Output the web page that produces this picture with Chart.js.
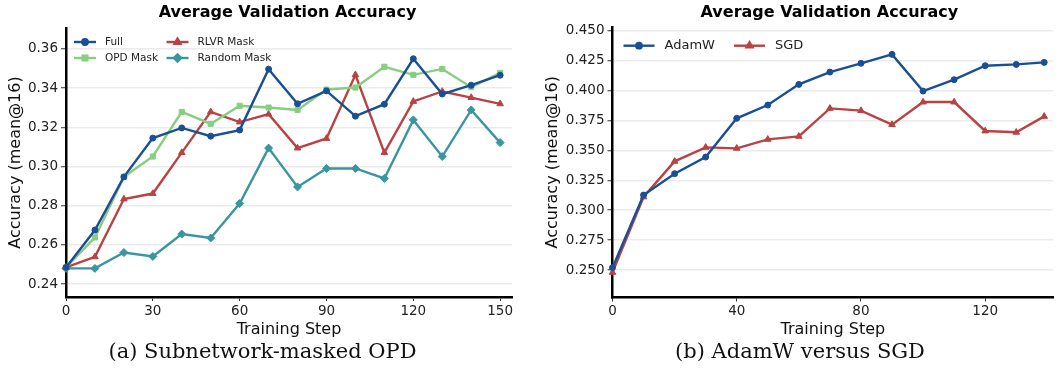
<!DOCTYPE html>
<html>
<head>
<meta charset="utf-8">
<script src="https://cdn.jsdelivr.net/npm/chart.js@4.4.1/dist/chart.umd.min.js"></script>
<style>
  body { margin: 0; background: #fff; width: 1058px; height: 372px; position: relative; overflow: hidden; }
  .panel { position: absolute; top: 0; height: 340px; }
  .cap { position: absolute; top: 338px; font-family: "DejaVu Serif", serif; font-size: 21px; line-height: 26px; color: #111; text-align: center; white-space: nowrap; }
</style>
</head>
<body>
<div class="panel" style="left:0;width:530px"><canvas id="left" width="530" height="340"></canvas></div>
<div class="panel" style="left:530px;width:528px"><canvas id="right" width="528" height="340"></canvas></div>
<div class="cap" style="left:0;width:525px">(a) Subnetwork-masked OPD</div>
<div class="cap" style="left:542px;width:516px">(b) AdamW versus SGD</div>
<script>
// ---- data ----
const leftSteps = [0, 10, 20, 30, 40, 50, 60, 70, 80, 90, 100, 110, 120, 130, 140, 150];
const fullAcc   = [0.2485, 0.2676, 0.2947, 0.3145, 0.3197, 0.3155, 0.3186, 0.3497, 0.3320, 0.3386, 0.3257, 0.3318, 0.3550, 0.3370, 0.3415, 0.3466];
const opdAcc    = [0.2485, 0.2638, 0.2947, 0.3051, 0.3279, 0.3218, 0.3310, 0.3301, 0.3289, 0.3393, 0.3403, 0.3509, 0.3468, 0.3498, 0.3405, 0.3478];
const rlvrAcc   = [0.2485, 0.2539, 0.2834, 0.2862, 0.3071, 0.3279, 0.3227, 0.3267, 0.3094, 0.3143, 0.3468, 0.3071, 0.3332, 0.3383, 0.3352, 0.3320];
const randAcc   = [0.2480, 0.2480, 0.2561, 0.2541, 0.2655, 0.2635, 0.2811, 0.3094, 0.2896, 0.2990, 0.2990, 0.2939, 0.3238, 0.3051, 0.3289, 0.3122];

const rightSteps = [0, 10, 20, 30, 40, 50, 60, 70, 80, 90, 100, 110, 120, 130, 139];
const adamwAcc   = [0.2520, 0.3127, 0.3306, 0.3445, 0.3769, 0.3880, 0.4053, 0.4156, 0.4229, 0.4304, 0.3997, 0.4092, 0.4209, 0.4220, 0.4237];
const sgdAcc     = [0.2480, 0.3111, 0.3409, 0.3526, 0.3518, 0.3593, 0.3618, 0.3852, 0.3833, 0.3716, 0.3905, 0.3905, 0.3663, 0.3652, 0.3785];

const leftXTicks  = [0, 30, 60, 90, 120, 150];
const leftYTicks  = [0.24, 0.26, 0.28, 0.30, 0.32, 0.34, 0.36];
const rightXTicks = [0, 40, 80, 120];
const rightYTicks = [0.250, 0.275, 0.300, 0.325, 0.350, 0.375, 0.400, 0.425, 0.450];

const titleText = 'Average Validation Accuracy';
const xTitle = 'Training Step';
const yTitle = 'Accuracy (mean@16)';

const BLUE = '#1a4f94', GREEN = '#86cf7f', RED = '#b94242', TEAL = '#3a969e';
const SANS = "'DejaVu Sans', sans-serif";

function pts(xs, ys) { return xs.map((x, i) => ({ x: x, y: ys[i] })); }

function line(label, xs, ys, color, style, r) {
  return {
    label: label, data: pts(xs, ys),
    borderColor: color, backgroundColor: color,
    borderWidth: 2.4, pointStyle: style, pointRadius: r, pointHoverRadius: r,
    pointBorderWidth: 1, tension: 0, clip: false
  };
}

// title centred over the plot area + matplotlib style legend
const decor = {
  id: 'decor',
  afterDraw(chart, args, o) {
    const ctx = chart.ctx, ca = chart.chartArea;
    ctx.save();
    ctx.fillStyle = '#000';
    ctx.font = 'bold 16px ' + SANS;
    ctx.textAlign = 'center';
    ctx.textBaseline = 'middle';
    ctx.fillText(titleText, (ca.left + ca.right) / 2 + o.titleDx, o.titleY);

    ctx.font = o.legendFont + 'px ' + SANS;
    ctx.textAlign = 'left';
    chart.data.datasets.forEach((ds, i) => {
      const col = Math.floor(i / o.rows), row = i % o.rows;
      const x = ca.left + o.lx + col * o.colGap;
      const y = ca.top + o.ly + row * o.rowGap;
      ctx.strokeStyle = ds.borderColor;
      ctx.lineWidth = 2.4;
      ctx.beginPath(); ctx.moveTo(x, y); ctx.lineTo(x + o.lineLen, y); ctx.stroke();
      ctx.fillStyle = ds.backgroundColor;
      ctx.strokeStyle = ds.borderColor;
      Chart.helpers.drawPoint(ctx, { pointStyle: ds.pointStyle, radius: ds.pointRadius * 0.9, rotation: 0, borderWidth: 1 }, x + o.lineLen / 2, y);
      ctx.fillStyle = '#222';
      ctx.fillText(ds.label, x + o.lineLen + o.textGap, y);
    });
    ctx.restore();
  }
};

function makeChart(id, datasets, xr, yr, xt, yt, yDigits, geo, deco) {
  return new Chart(document.getElementById(id), {
    type: 'line',
    data: { datasets: datasets },
    plugins: [decor],
    options: {
      responsive: false, animation: false, devicePixelRatio: 1,
      layout: { padding: { left: 0, right: geo.padRight, top: geo.top, bottom: 0 } },
      plugins: { legend: { display: false }, tooltip: { enabled: false }, decor: deco },
      scales: {
        x: {
          type: 'linear', min: xr[0], max: xr[1],
          afterBuildTicks: s => { s.ticks = xt.map(v => ({ value: v })); },
          afterFit: s => { s.height = 340 - geo.bottom; },
          grid: { display: true, drawOnChartArea: false, drawTicks: true, tickLength: 4, tickColor: '#333', tickWidth: 1 },
          border: { display: true, color: '#000', width: 2.5 },
          ticks: { color: '#222', font: { family: SANS, size: 13.5 }, padding: 2, maxRotation: 0, callback: v => String(v) },
          title: { display: true, text: xTitle, color: '#111', font: { family: SANS, size: 16 }, padding: { top: 0, bottom: 1 } }
        },
        y: {
          type: 'linear', min: yr[0], max: yr[1],
          afterBuildTicks: s => { s.ticks = yt.map(v => ({ value: v })); },
          afterFit: s => { s.width = geo.left; },
          grid: { color: '#ebebeb', lineWidth: 1.5, drawTicks: true, tickLength: 5, tickColor: '#333', tickWidth: 1 },
          border: { display: true, color: '#000', width: 2.5 },
          ticks: { color: '#222', font: { family: SANS, size: 13.5 }, padding: 3, callback: v => v.toFixed(yDigits) },
          title: { display: true, text: yTitle, color: '#111', font: { family: SANS, size: 16 }, padding: { top: geo.yTitlePad, bottom: 0 } }
        }
      }
    }
  });
}

makeChart('left', [
  line('Full', leftSteps, fullAcc, BLUE, 'circle', 3),
  line('OPD Mask', leftSteps, opdAcc, GREEN, 'rect', 3.6),
  line('RLVR Mask', leftSteps, rlvrAcc, RED, 'triangle', 3.8),
  line('Random Mask', leftSteps, randAcc, TEAL, 'rectRot', 4)
], [0, 154.1], [0.2334, 0.3707], leftXTicks, leftYTicks, 2,
  { left: 66, top: 28, bottom: 297, padRight: 18, yTitlePad: 6 },
  { titleDx: -1.5, titleY: 13, legendFont: 10.5, rows: 2, lx: 8, ly: 14, rowGap: 16, colGap: 92.5, lineLen: 22, textGap: 9 });

makeChart('right', [
  line('AdamW', rightSteps, adamwAcc, BLUE, 'circle', 3),
  line('SGD', rightSteps, sgdAcc, RED, 'triangle', 3.8)
], [0, 141.9], [0.2270, 0.4533], rightXTicks, rightYTicks, 3,
  { left: 82.5, top: 27, bottom: 297.5, padRight: 0, yTitlePad: 13 },
  { titleDx: -3.5, titleY: 13, legendFont: 13, rows: 1, lx: 11, ly: 18.7, rowGap: 0, colGap: 110.5, lineLen: 31, textGap: 10 });
</script>
</body>
</html>
